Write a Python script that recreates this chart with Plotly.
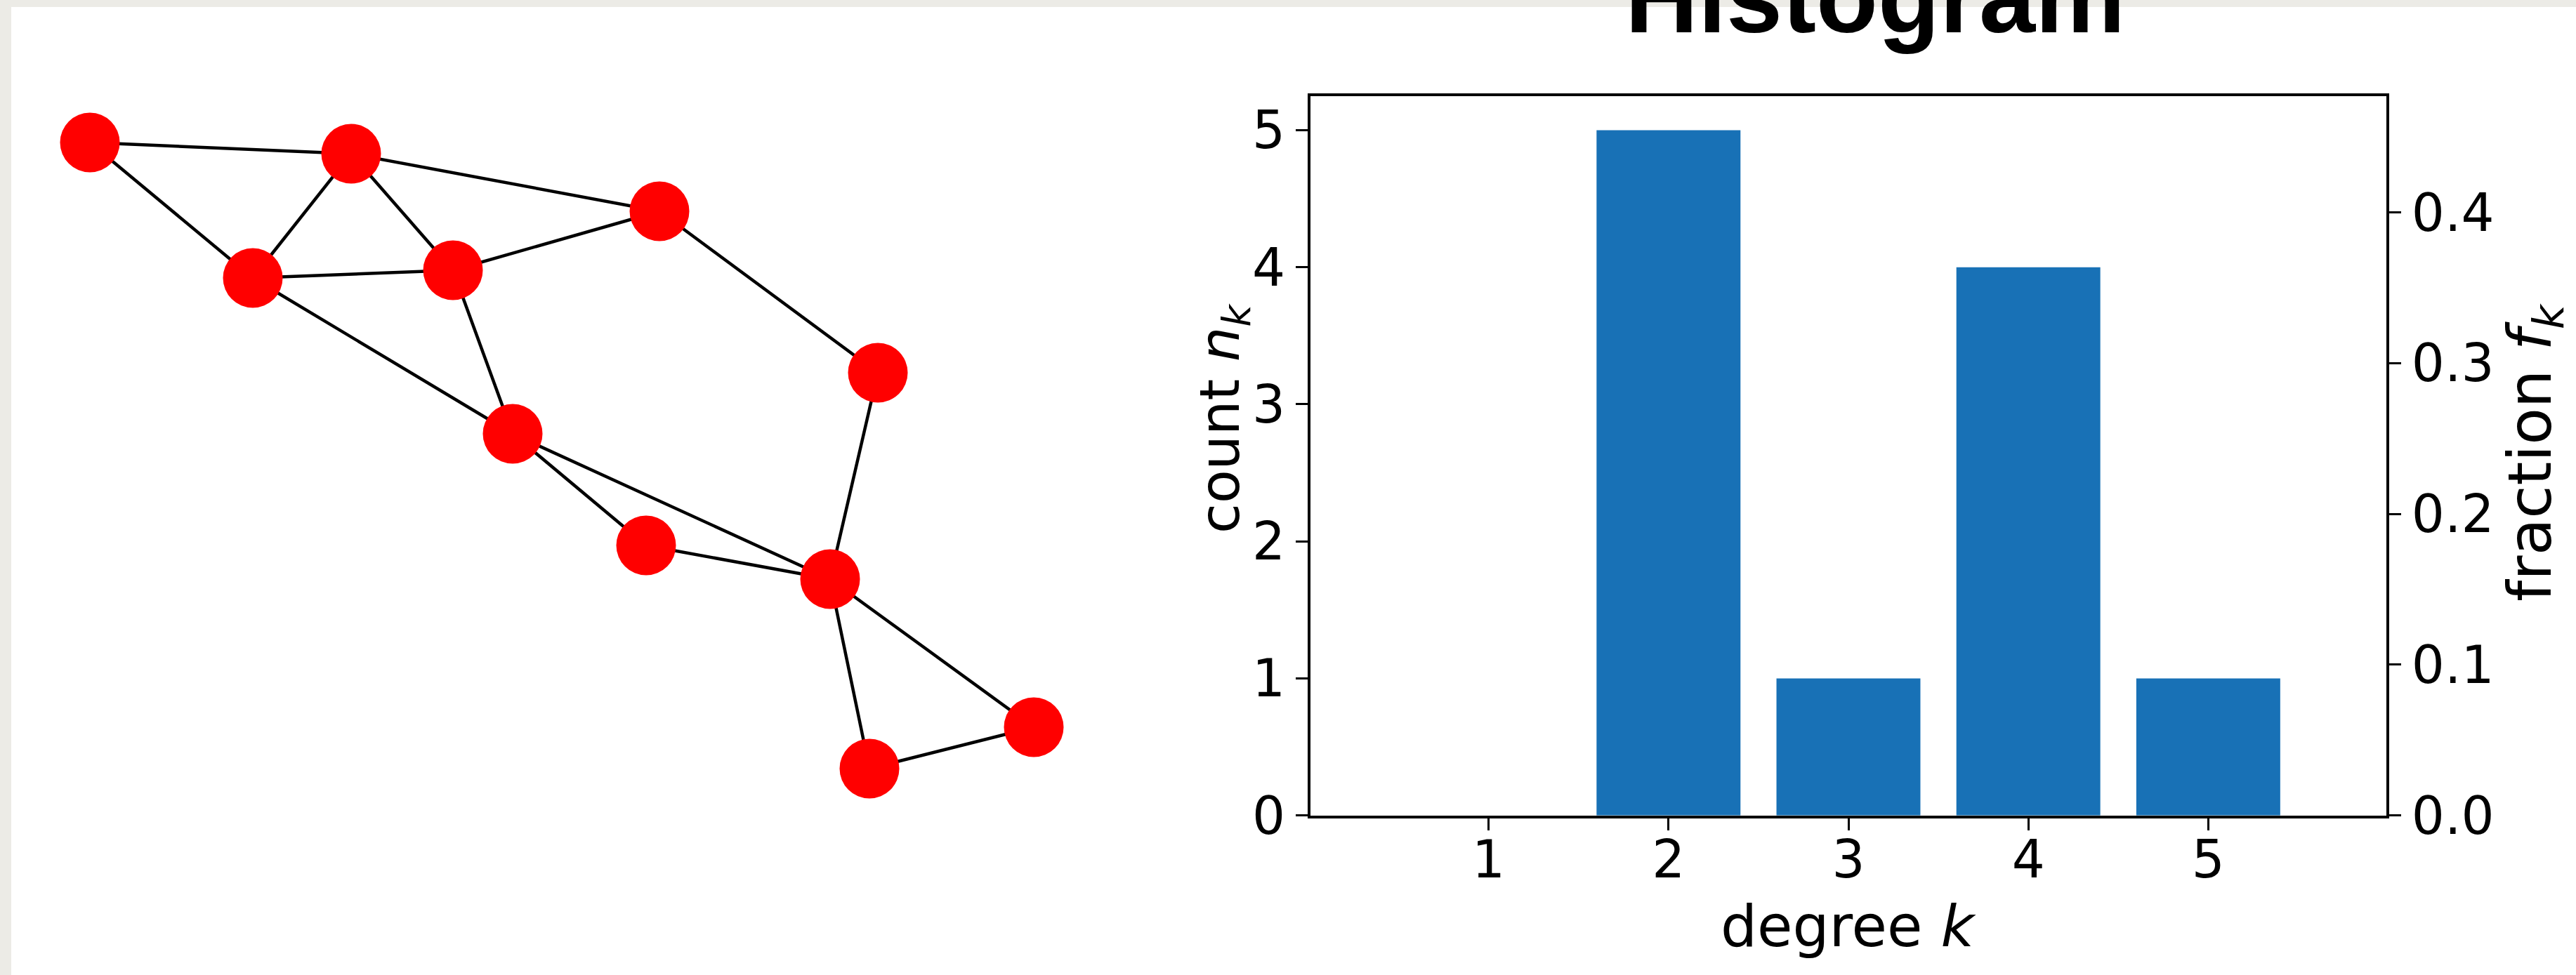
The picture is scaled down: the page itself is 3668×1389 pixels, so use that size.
import plotly.graph_objects as go

# ---------------- data ----------------
# network layout (node positions in layout units)
node_x = [1.28, 5.00, 9.39, 3.60, 6.45, 12.50, 7.30, 9.20, 11.82, 14.72, 12.38]
node_y = [2.03, 2.19, 3.01, 3.96, 3.85, 5.31, 6.18, 7.77, 8.25, 10.36, 10.95]
edges = [(1, 2), (1, 4), (2, 4), (2, 5), (2, 3), (4, 5), (5, 3), (3, 6),
         (4, 7), (5, 7), (7, 8), (7, 9), (8, 9), (6, 9), (9, 10), (9, 11), (10, 11)]

# degree histogram
degrees = [1, 2, 3, 4, 5]
counts = [0, 5, 1, 4, 1]
n_nodes = 11
fractions = [c / n_nodes for c in counts]
count_ticks = [0, 1, 2, 3, 4, 5]
frac_ticks = [0.0, 0.1, 0.2, 0.3, 0.4]
frac_labels = ["0.0", "0.1", "0.2", "0.3", "0.4"]

W, H = 3668, 1389
TICK_FONT = dict(family="DejaVu Sans", size=74, color="black")
LABEL_FONT = dict(family="DejaVu Sans", size=82, color="black")

fig = go.Figure()

# edges
ex, ey = [], []
for a, b in edges:
    ex += [node_x[a - 1], node_x[b - 1], None]
    ey += [node_y[a - 1], node_y[b - 1], None]
fig.add_trace(go.Scatter(x=ex, y=ey, mode="lines", xaxis="x3", yaxis="y3",
                         line=dict(color="black", width=4.5), hoverinfo="skip",
                         showlegend=False))
fig.add_trace(go.Scatter(x=node_x, y=node_y, mode="markers", xaxis="x3", yaxis="y3",
                         marker=dict(color="#ff0000", size=85, line=dict(width=0)),
                         showlegend=False))

# histogram bars
fig.add_trace(go.Bar(x=degrees, y=counts, width=0.8,
                     marker=dict(color="#1871b6", line=dict(width=0)),
                     xaxis="x", yaxis="y", showlegend=False))
# invisible trace for right axis (fraction)
fig.add_trace(go.Scatter(x=degrees, y=fractions, mode="markers", marker=dict(opacity=0),
                         xaxis="x", yaxis="y2", hoverinfo="skip", showlegend=False))

x0, x1 = 1866 / W, 3398 / W
y0, y1 = 1 - 1161.7 / H, 1 - 136.7 / H

axis_common = dict(showgrid=False, zeroline=False, showline=True, linecolor="black",
                   linewidth=4, ticks="outside", ticklen=17, tickwidth=3, tickcolor="black",
                   tickfont=TICK_FONT, automargin=False)

# annotations are referenced to the full-canvas axes (x3/y3: 1 unit = 100 px)
def ann(text, px, py, font, angle=0, yanchor="middle"):
    return dict(text=text, xref="x3", yref="y3", x=px / 100, y=py / 100,
                xanchor="center", yanchor=yanchor, showarrow=False,
                textangle=angle, font=font)

fig.update_layout(
    width=W, height=H,
    margin=dict(l=0, r=0, t=0, b=0, pad=0),
    autosize=False,
    paper_bgcolor="#ecebe6",
    plot_bgcolor="rgba(0,0,0,0)",
    showlegend=False,
    xaxis=dict(domain=[x0, x1], range=[0.01, 5.99], anchor="y", tickvals=degrees,
               mirror=True, ticklabelstandoff=-22, **axis_common),
    yaxis=dict(domain=[y0, y1], range=[0, 5.25], anchor="x", tickvals=count_ticks,
               **axis_common),
    yaxis2=dict(overlaying="y", side="right", anchor="x", range=[0, 5.25 / n_nodes],
                tickvals=frac_ticks, ticktext=frac_labels, **axis_common),
    xaxis3=dict(domain=[0, 1], range=[0, W / 100], visible=False, fixedrange=True,
                automargin=False),
    yaxis3=dict(domain=[0, 1], range=[H / 100, 0], visible=False, fixedrange=True,
                anchor="x3", automargin=False),
    shapes=[dict(type="rect", xref="paper", yref="paper", x0=16 / W, x1=1, y0=0,
                 y1=1 - 10 / H, fillcolor="white", line=dict(width=0), layer="below")],
    annotations=[
        ann("<b>Histogram</b>", 2670, 79, dict(family="Liberation Sans", size=144,
                                               color="black"), yanchor="bottom"),
        ann("degree <i>k</i>", 2632, 1319.6, LABEL_FONT),
        ann("count <i>n</i><sub><i>k</i></sub>", 1742, 596,
            dict(family="DejaVu Sans", size=78, color="black"), angle=-90),
        ann("fraction <i>f</i><sub><i>k</i></sub>", 3608, 645,
            dict(family="DejaVu Sans", size=86, color="black"), angle=-90),
    ],
)

fig.write_html("out.html")
